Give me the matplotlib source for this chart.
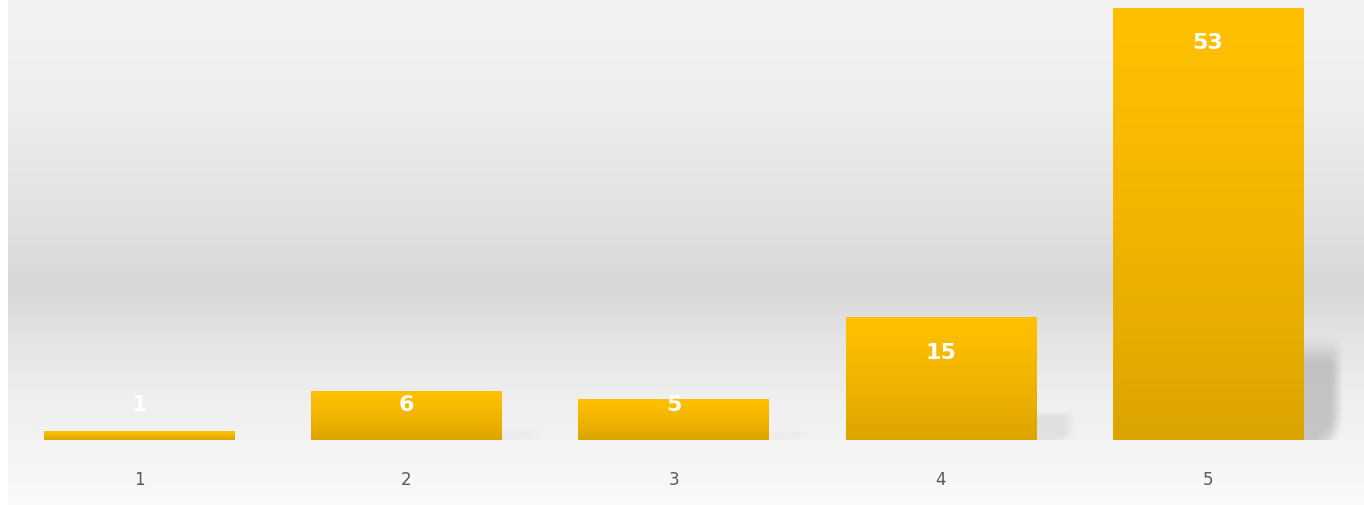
import numpy as np
import matplotlib.pyplot as plt
from matplotlib.colors import LinearSegmentedColormap, to_rgb

categories = ["1", "2", "3", "4", "5"]
values = [1, 6, 5, 15, 53]

W, H = 1364, 505
fig = plt.figure(figsize=(W / 100, H / 100), dpi=100)
fig.patch.set_facecolor("white")

# background panel with vertical gray gradient
bg = fig.add_axes([8 / W, 0, 1 - 8 / W, 1])
bg.set_axis_off()
stops = [(0.0, "#f3f3f3"), (100 / H, "#eeeeee"), (200 / H, "#e3e3e3"),
         (268 / H, "#dbdbdb"), (285 / H, "#d7d7d7"), (340 / H, "#e4e4e4"),
         (400 / H, "#efefef"), (440 / H, "#f3f3f3"), (1.0, "#fafafa")]
bg_cmap = LinearSegmentedColormap.from_list("bg", stops)
bg.imshow(np.linspace(0, 1, 512).reshape(-1, 1), aspect="auto", cmap=bg_cmap,
          extent=[0, 1, 0, 1], origin="upper")
bg.set_xlim(0, 1)
bg.set_ylim(0, 1)

ax = fig.add_axes([5.5 / W, (H - 440) / H, 1336 / W, 432 / H])
ax.patch.set_alpha(0)

bar_w = 190 / 267
top_c = np.array(to_rgb("#ffc000"))
bot_c = np.array(to_rgb("#dca400"))
x = np.arange(len(values))
bars = ax.bar(x, values, width=bar_w, color="none", edgecolor="none", zorder=3)


def smooth(a):
    a = np.clip(a, 0, 1)
    return a * a * (3 - 2 * a)


for xi, v, b in zip(x, values, bars):
    # soft shadow to the right of each bar
    sh_h = 0.25 * v
    sh_w = 0.16
    ny, nx = 80, 40
    yy = np.linspace(0, 1, ny).reshape(-1, 1)  # 0 at top
    xx = np.linspace(0, 1, nx).reshape(1, -1)
    strength = 0.5 * min(1.0, v / 40)
    alpha = strength * smooth(yy * 3) * smooth((1 - xx) * 2.5) \
        * smooth((1 - yy) * 3 + (1 - xx) * 1.2)
    rgba = np.zeros((ny, nx, 4))
    rgba[..., :3] = 0.6
    rgba[..., 3] = alpha
    ax.imshow(rgba, aspect="auto", extent=[xi + bar_w / 2, xi + bar_w / 2 + sh_w, 0, sh_h],
              origin="upper", zorder=2, interpolation="bilinear")

    # bar gradient, top to bottom
    t = np.linspace(0, 1, 100).reshape(-1, 1, 1) ** 1.3
    grad = top_c * (1 - t) + bot_c * t
    grad = np.repeat(grad, 2, axis=1)
    ax.imshow(grad, aspect="auto", extent=[xi - bar_w / 2, xi + bar_w / 2, 0, v],
              origin="upper", zorder=3)

    ax.text(xi, max(v - 4.3, 4.3), str(v), ha="center", va="center",
            color="white", fontsize=16, fontweight="bold", zorder=5)

ax.set_xlim(-0.5, 4.5)
ax.set_ylim(0, 53)
ax.set_xticks(x)
ax.set_xticklabels(categories, fontsize=12, color="#595959")
ax.tick_params(axis="x", length=0, pad=22)
ax.set_yticks([])
for s in ax.spines.values():
    s.set_visible(False)

fig.savefig("out.png", dpi=100)
